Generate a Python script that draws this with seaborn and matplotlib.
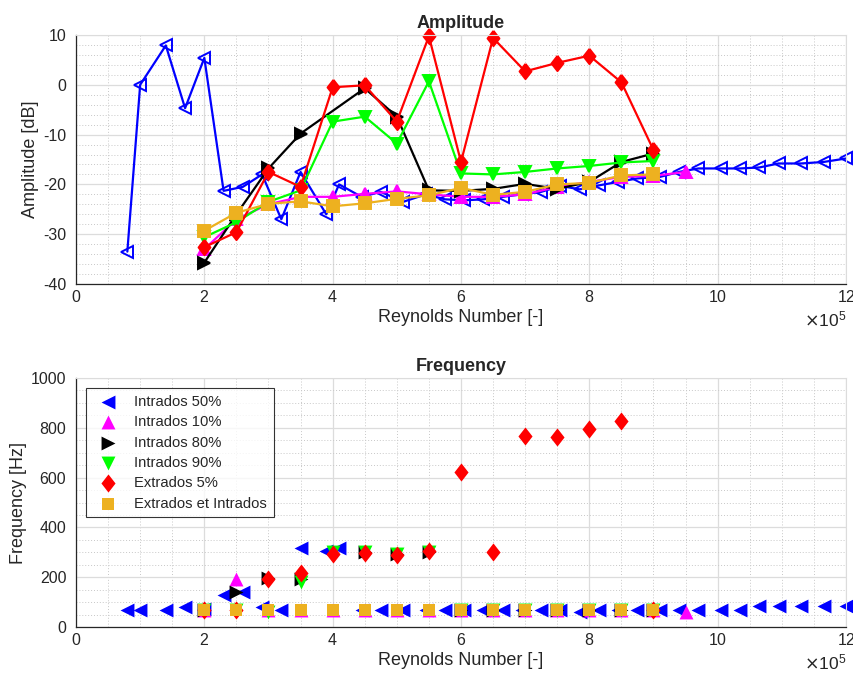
import numpy as np
import matplotlib
matplotlib.use("Agg")
import matplotlib.pyplot as plt
import seaborn as sns
from matplotlib.ticker import MultipleLocator, ScalarFormatter

# Reynolds numbers in units of 1e5
re_i50 = [0.8, 1.0, 1.4, 1.7, 2.0, 2.3, 2.6, 2.9, 3.2, 3.5, 3.9, 4.1, 4.45, 4.75,
          5.1, 5.45, 5.75, 6.05, 6.35, 6.65, 6.95, 7.25, 7.55, 7.85, 8.15, 8.45,
          8.75, 9.1, 9.4, 9.7, 10.05, 10.35, 10.65, 10.95, 11.3, 11.65, 12.0]
amp_i50 = [-33.5, 0, 7.9, -4.7, 5.4, -21.3, -20.5, -18, -27, -17.5, -26, -20, -22.5,
           -21.5, -23.5, -22, -23, -23.2, -23, -22.5, -22, -21.5, -20.3, -21, -20.2,
           -19.5, -18.8, -18.5, -17.5, -16.8, -16.8, -16.8, -16.6, -15.8, -15.8,
           -15.5, -14.8]
freq_i50 = [67, 67, 67, 81, 74, 128, 141, 81, 67, 316, 305, 316, 67, 67, 67, 67, 67,
            67, 67, 67, 67, 67, 67, 62, 67, 67, 67, 67, 67, 67, 67, 67, 85, 85, 85,
            85, 85]

re_i10 = [2.0, 2.5, 3.0, 3.5, 4.0, 4.5, 5.0, 5.5, 6.0, 6.5, 7.0, 7.5, 8.0, 8.5, 9.0, 9.5]
amp_i10 = [-33, -27, -24, -22.5, -22.5, -21.9, -21.4, -22, -22.5, -22.5, -22, -20.5,
           -19.5, -18.5, -18.3, -17.5]
freq_i10 = [68, 192, 68, 68, 68, 68, 68, 68, 68, 68, 68, 68, 68, 68, 68, 62]

re_i80 = [2.0, 2.5, 3.0, 3.5, 4.5, 5.0, 5.5, 6.0, 6.5, 7.0, 7.5, 8.0, 8.5, 9.0]
amp_i80 = [-35.7, -26, -16.8, -9.8, -0.7, -6.4, -21.2, -21.3, -20.9, -19.9, -20.9,
           -19.5, -15.5, -13.8]
freq_i80 = [67, 141, 195, 192, 300, 295, 300, 67, 67, 67, 67, 67, 67, 67]

re_std = [2.0, 2.5, 3.0, 3.5, 4.0, 4.5, 5.0, 5.5, 6.0, 6.5, 7.0, 7.5, 8.0, 8.5, 9.0]
amp_i90 = [-30.6, -27.6, -23.5, -21.2, -7.4, -6.4, -11.8, 0.7, -17.8, -18, -17.5,
           -16.8, -16.3, -15.6, -15.3]
freq_i90 = [67, 67, 62, 181, 300, 300, 295, 300, 67, 67, 67, 67, 67, 67, 67]

amp_e5 = [-32.6, -29.6, -17.5, -20.5, -0.5, -0.1, -7.4, 9.75, -15.5, 9.4, 2.7, 4.4,
          5.85, 0.5, -13.1]
freq_e5 = [67, 67, 191, 217, 295, 298, 288, 305, 624, 302, 769, 765, 795, 829, 67]

amp_ei = [-29.3, -25.7, -23.9, -23.4, -24.4, -23.8, -22.9, -22.2, -20.7, -22.1,
          -21.5, -20, -19.7, -18.2, -18]
freq_ei = [68] * 15

# MATLAB-like diamond (a bit narrower than it is tall)
diamond = [(0, 1), (0.78, 0), (0, -1), (-0.78, 0), (0, 1)]

series = [
    ("Intrados 50%", re_i50, amp_i50, freq_i50, "<", "#0000ff", False),
    ("Intrados 10%", re_i10, amp_i10, freq_i10, "^", "#ff00ff", True),
    ("Intrados 80%", re_i80, amp_i80, freq_i80, ">", "#000000", True),
    ("Intrados 90%", re_std, amp_i90, freq_i90, "v", "#00ff00", True),
    ("Extrados 5%", re_std, amp_e5, freq_e5, diamond, "#ff0000", True),
    ("Extrados et Intrados", re_std, amp_ei, freq_ei, "s", "#edb120", True),
]

sns.set_style("white")
plt.rcParams["font.family"] = ["Liberation Sans", "DejaVu Sans"]
plt.rcParams["axes.unicode_minus"] = False

fig = plt.figure(figsize=(8.54, 6.82), dpi=100)
ax1 = fig.add_axes([0.089, 0.5836, 0.9016, 0.3651])
ax2 = fig.add_axes([0.089, 0.0806, 0.9016, 0.3651])

for name, re, amp, freq, mk, col, filled in series:
    x = np.array(re) * 1e5
    is_d = mk is diamond
    ms = 11 if is_d else (8 if mk == "s" else 8.5)
    sns.lineplot(x=x, y=amp, ax=ax1, sort=False, estimator=None, color=col,
                 linewidth=1.6, marker=mk, markersize=ms, clip_on=False,
                 markerfacecolor=col if filled else "none",
                 markeredgecolor=col, markeredgewidth=1.4)
    sns.scatterplot(x=x, y=freq, ax=ax2, marker=mk,
                    s=170 if is_d else (75 if mk == "s" else 100), clip_on=False,
                    color=col, edgecolor=col, linewidth=0, label=name)


def style_axes(ax, ylim, ymajor, yminor, ylabel, title):
    ax.set_xlim(0, 12e5)
    ax.set_ylim(*ylim)
    ax.xaxis.set_major_locator(MultipleLocator(2e5))
    ax.xaxis.set_minor_locator(MultipleLocator(0.5e5))
    ax.yaxis.set_major_locator(MultipleLocator(ymajor))
    ax.yaxis.set_minor_locator(MultipleLocator(yminor))
    fmt = ScalarFormatter(useMathText=True)
    fmt.set_powerlimits((5, 5))
    ax.xaxis.set_major_formatter(fmt)
    ax.grid(which="major", color="#dcdcdc", linewidth=0.9, linestyle="-")
    ax.grid(which="minor", color="#c8c8c8", linewidth=0.7, linestyle=(0, (1, 2)))
    ax.set_axisbelow(True)
    for side in ["top", "right"]:
        ax.spines[side].set_color("#dcdcdc")
    for side in ["left", "bottom"]:
        ax.spines[side].set_color("#262626")
        ax.spines[side].set_linewidth(0.9)
    ax.tick_params(which="major", direction="in", length=4, labelsize=11.5,
                   colors="#262626", labelcolor="#262626")
    ax.tick_params(axis="y", which="major", pad=7)
    ax.tick_params(which="minor", length=0)
    ax.xaxis.get_offset_text().set_fontsize(12.5)
    ax.set_xlabel("Reynolds Number [-]", fontsize=13, color="#262626", labelpad=3)
    ax.set_ylabel(ylabel, fontsize=13, color="#262626", labelpad=3)
    ax.set_title(title, fontsize=13, fontweight="bold", pad=5)


style_axes(ax1, (-40, 10), 10, 2, "Amplitude [dB]", "Amplitude")
style_axes(ax2, (0, 1000), 200, 50, "Frequency [Hz]", "Frequency")

leg = ax2.legend(loc="upper left", fontsize=10.6, frameon=True, fancybox=False,
                 edgecolor="#000000", borderaxespad=0.7, labelspacing=0.43,
                 handlelength=2.1, handletextpad=0.7, borderpad=0.45)
leg.get_frame().set_linewidth(0.8)

fig.savefig("out.png", dpi=100)
